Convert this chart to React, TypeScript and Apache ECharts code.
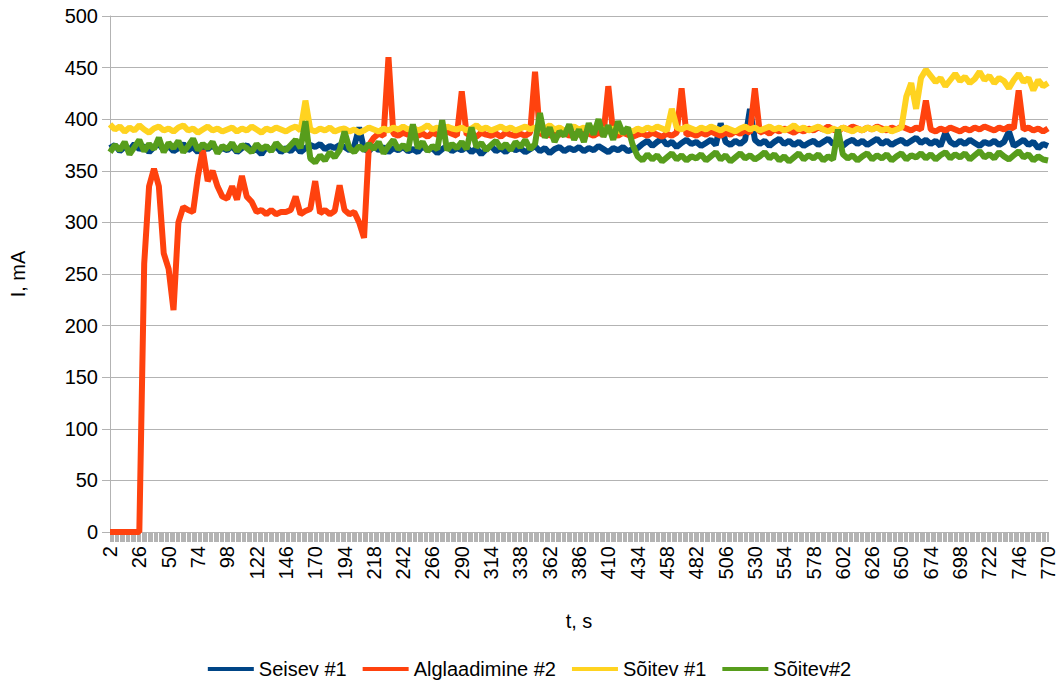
import React, { useEffect, useRef } from "react";
import * as echarts from "echarts";

// time axis categories (seconds)
const categories: string[] = [];
for (let t = 2; t <= 770; t++) categories.push(String(t));

// sampled every 4 s starting at t = 2
const STEP = 4;

const seisev1 = [
  372, 375, 369, 373, 370, 376, 371, 374, 368, 373, 376, 370,
  374, 369, 372, 376, 370, 373, 368, 374, 371, 375, 369, 372,
  370, 374, 368, 372, 375, 369, 371, 366, 373, 370, 374, 368,
  372, 369, 374, 368, 372, 375, 373, 376, 371, 374, 372, 375,
  373, 370, 374, 392, 371, 369, 374, 370, 373, 368, 372, 370,
  373, 369, 371, 368, 374, 370, 372, 367, 371, 374, 369, 372,
  370, 373, 368, 372, 366, 371, 374, 369, 372, 368, 373, 370,
  372, 368, 371, 374, 369, 372, 367, 371, 373, 369, 372, 370,
  373, 369, 372, 370, 374, 371, 368, 372, 370, 373, 369, 371,
  372, 376, 379, 374, 378, 381, 375, 378, 373, 377, 380, 376,
  378, 374, 377, 380, 375, 396, 378, 375, 379, 376, 380, 410,
  380, 376, 379, 374, 378, 381, 376, 379, 375, 378, 374, 377,
  379, 375, 378, 381, 376, 379, 374, 378, 380, 376, 379, 375,
  378, 381, 376, 379, 375, 378, 380, 376, 379, 382, 377, 380,
  376, 379, 374, 387, 378, 375, 379, 376, 380, 377, 374, 378,
  376, 379, 375, 378, 388, 374, 377, 380, 375, 378, 372, 376,
  374,
];

const alglaadimine2 = [
  0, 0, 0, 0, 0, 0, 0, 260, 335, 352, 335, 270,
  255, 215, 300, 315, 312, 310, 345, 370, 340, 350, 335, 325,
  323, 335, 322, 345, 325, 320, 310, 312, 308, 312, 308, 310,
  310, 312, 325, 308, 311, 313, 340, 309, 312, 308, 311, 336,
  312, 308, 310, 300, 285, 375, 382, 386, 384, 460, 386, 384,
  387, 385, 388, 384, 386, 383, 387, 385, 384, 388, 386, 384,
  427, 385, 386, 383, 387, 385, 384, 386, 383, 387, 385, 384,
  386, 384, 387, 446, 385, 388, 384, 386, 385, 387, 384, 386,
  385, 388, 386, 384, 387, 385, 432, 386, 384, 387, 385, 383,
  385, 386, 384, 387, 385, 383, 386, 384, 387, 430, 385, 386,
  384, 387, 385, 388, 386, 384, 387, 385, 388, 386, 389, 387,
  430, 387, 389, 386, 390, 388, 391, 389, 387, 390, 388, 391,
  389, 392, 390, 393, 390, 388, 392, 390, 393, 391, 389, 392,
  390, 393, 391, 389, 392, 390, 393, 391, 389, 392, 390, 418,
  390, 388, 391, 389, 392, 390, 388, 391, 389, 392, 390, 393,
  391, 389, 392, 390, 393, 391, 428, 390, 392, 389, 391, 388,
  391,
];

const soitev1 = [
  395, 390, 393, 388, 392, 389, 394, 390, 387, 391, 393, 389,
  391, 388, 392, 394, 389, 391, 387, 390, 393, 389, 391, 388,
  390, 392, 388, 391, 389, 393, 390, 387, 391, 389, 392, 390,
  388, 391, 393, 389, 418, 390, 388, 391, 389, 392, 388, 390,
  391, 388, 390, 387, 389, 392, 390, 388, 391, 389, 392, 390,
  393, 390, 392, 389, 391, 394, 390, 392, 389, 393, 391, 390,
  392, 389, 391, 394, 390, 392, 389, 391, 393, 390, 392, 389,
  391, 393, 390, 392, 389, 391, 394, 390, 392, 389, 391, 393,
  390, 392, 389, 391, 393, 390, 388, 391, 389, 387, 390, 388,
  391, 389, 392, 390, 393, 391, 389, 410, 392, 390, 393, 391,
  389, 392, 390, 393, 391, 389, 392, 390, 388, 391, 393, 390,
  392, 389, 391, 393, 390, 392, 389, 391, 394, 390, 392, 389,
  391, 393, 390, 388, 391, 389, 392, 390, 388, 391, 389, 392,
  390, 392, 389, 391, 388, 390, 392, 422, 435, 410, 440, 448,
  442, 436, 440, 432, 438, 444, 437, 441, 435, 439, 446, 438,
  442, 435, 440, 437, 430, 438, 444, 436, 440, 428, 438, 432,
  435,
];

const soitev2 = [
  368, 375, 370, 378, 366, 373, 380, 369, 376, 371, 382, 368,
  377, 372, 379, 368, 374, 381, 370, 376, 372, 378, 367, 374,
  371, 377, 369, 375, 372, 368, 376, 371, 374, 369, 377, 372,
  370, 375, 380, 372, 398, 362, 358, 365, 360, 368, 363, 370,
  388, 372, 368, 374, 370, 376, 371, 378, 367, 374, 380, 371,
  375, 370, 395, 372, 378, 369, 374, 371, 399, 370, 376, 372,
  378, 371, 392, 373, 377, 370, 375, 379, 372, 376, 370, 378,
  373, 380, 371, 376, 406, 382, 392, 378, 388, 384, 395, 380,
  390, 378, 396, 385, 400, 383, 394, 380, 398, 386, 392, 375,
  364, 360, 366, 361, 365, 359, 363, 367, 361, 365, 360, 364,
  362, 366, 360, 364, 368, 361, 365, 359, 363, 367, 362, 365,
  361, 364, 368, 362, 366, 360, 364, 359, 363, 367, 361, 365,
  362, 366, 360, 364, 361, 390, 366, 362, 365, 360, 364, 367,
  361, 365, 362, 366, 360, 364, 367, 361, 365, 363, 367, 362,
  366, 361, 365, 368, 362, 366, 363, 367, 361, 365, 369, 363,
  366, 362, 368, 364, 361, 365, 369, 363, 366, 360, 364, 361,
  360,
];

const seriesNames = ["Seisev #1", "Alglaadimine #2", "Sõitev #1", "Sõitev#2"];
const seriesColors = ["#004586", "#ff420e", "#ffd320", "#579d1c"];
const seriesValues = [seisev1, alglaadimine2, soitev1, soitev2];

const FONT = "Liberation Sans, Arial, sans-serif";

export default function App() {
  const ref = useRef<HTMLDivElement>(null);
  useEffect(() => {
    if (!ref.current) return;
    const chart = echarts.init(ref.current, undefined, { renderer: "svg" });
    chart.setOption({
      animation: false,
      backgroundColor: "#ffffff",
      textStyle: { fontFamily: FONT },
      grid: {
        left: 110,
        right: 11,
        top: 16,
        bottom: 163,
        containLabel: false,
        outerBoundsMode: "none",
      },
      legend: {
        bottom: 11,
        left: "center",
        icon: "rect",
        itemWidth: 46,
        itemHeight: 4,
        itemGap: 16,
        textStyle: { fontSize: 20, color: "#000", fontFamily: FONT },
        data: seriesNames,
      },
      xAxis: {
        type: "category",
        data: categories,
        boundaryGap: false,
        name: "t, s",
        nameLocation: "middle",
        nameGap: 79,
        nameTextStyle: { fontSize: 20, color: "#000", fontFamily: FONT },
        axisLine: { lineStyle: { color: "#b3b3b3" } },
        axisTick: { show: true, interval: 0, length: 10, lineStyle: { color: "#b3b3b3" } },
        axisLabel: {
          interval: 23,
          rotate: 90,
          fontSize: 20,
          color: "#000",
          margin: 14,
          fontFamily: FONT,
        },
        splitLine: { show: false },
      },
      yAxis: {
        type: "value",
        min: 0,
        max: 500,
        interval: 50,
        name: "I, mA",
        nameLocation: "middle",
        nameGap: 82,
        nameTextStyle: { fontSize: 20, color: "#000", fontFamily: FONT },
        axisLine: { show: true, lineStyle: { color: "#b3b3b3" } },
        axisTick: { show: true, length: 8, lineStyle: { color: "#b3b3b3" } },
        axisLabel: { fontSize: 20, color: "#000", margin: 12, fontFamily: FONT },
        splitLine: { lineStyle: { color: "#b3b3b3", width: 1 } },
      },
      series: seriesNames.map((name, k) => ({
        name,
        type: "line",
        showSymbol: false,
        symbol: "none",
        color: seriesColors[k],
        lineStyle: { width: 6, color: seriesColors[k] },
        data: seriesValues[k].map((v, i) => [String(2 + STEP * i), v]),
      })),
    });
    return () => chart.dispose();
  }, []);
  return (
    <div
      ref={ref}
      style={{ position: "absolute", left: 0, top: 0, width: 1059, height: 695 }}
    />
  );
}
